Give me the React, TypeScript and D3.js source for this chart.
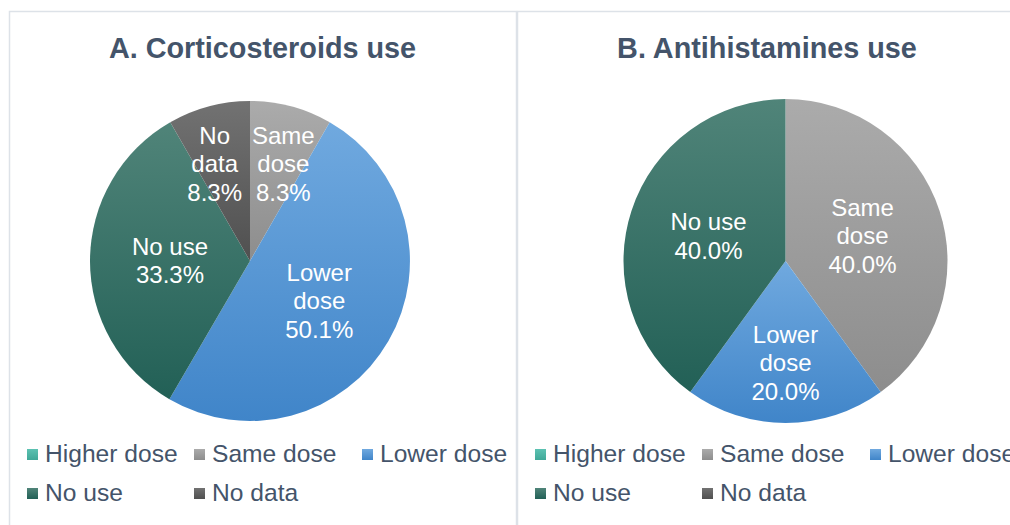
import React from "react";
import * as d3 from "d3";

// Response categories shared by both panels
const categories = ["Higher dose", "Same dose", "Lower dose", "No use", "No data"];
// In-slice label text (with line breaks)
const sliceLabels = ["Higher\ndose", "Same\ndose", "Lower\ndose", "No use", "No\ndata"];

// Percentages per category
const corticosteroidValues = [0, 8.3, 50.1, 33.3, 8.3];
const antihistamineValues = [0, 40.0, 20.0, 40.0, 0];

const panelTitles = ["A. Corticosteroids use", "B. Antihistamines use"];

// Gradient stops (top, bottom) per category
const colorTop = ["#5cc2b2", "#ababab", "#70a9df", "#508479", "#727272"];
const colorBottom = ["#40a898", "#8d8d8d", "#4085c9", "#226056", "#505050"];

const FONT = "'Liberation Sans', Arial, sans-serif";
const TEXT_COLOR = "#44546a";
const BORDER = "#dde2e8";
const LABEL_SIZE = 24;

type Datum = { category: string; value: number; i: number };

let measureCtx: CanvasRenderingContext2D | null = null;
function textWidth(s: string, size: number): number {
  if (!measureCtx) {
    measureCtx = document.createElement("canvas").getContext("2d");
  }
  if (!measureCtx) return s.length * size * 0.55;
  measureCtx.font = `${size}px ${FONT}`;
  return measureCtx.measureText(s).width;
}

type PanelProps = {
  id: string;
  x: number;
  width: number;
  title: string;
  values: number[];
  cx: number;
  cy: number;
  r: number;
};

function Panel({ id, x, width, title, values, cx, cy, r }: PanelProps) {
  const data: Datum[] = categories.map((c, i) => ({ category: c, value: values[i], i }));
  const pie = d3
    .pie<Datum>()
    .value((d) => d.value)
    .sort(null);
  const arcs = pie(data);
  const arc = d3.arc<d3.PieArcDatum<Datum>>().innerRadius(0).outerRadius(r);
  const total = d3.sum(values);

  const legendCols = [18, 185, 353];
  const legendRows = [453, 492];
  const lineH = 28.5;

  return (
    <g>
      <rect x={x + 0.5} y={11.5} width={width} height={540} fill="#fff" stroke={BORDER} strokeWidth={1.5} />
      <text
        x={x + width / 2}
        y={58}
        textAnchor="middle"
        fontFamily={FONT}
        fontWeight="bold"
        fontSize={28.8}
        fill={TEXT_COLOR}
      >
        {title}
      </text>
      <defs>
        {categories.map((c, i) => (
          <linearGradient key={c} id={`${id}-g${i}`} x1="0" y1="0" x2="0" y2="1">
            <stop offset="0" stopColor={colorTop[i]} />
            <stop offset="1" stopColor={colorBottom[i]} />
          </linearGradient>
        ))}
      </defs>
      <g transform={`translate(${cx},${cy})`}>
        {arcs
          .filter((a) => a.value > 0)
          .map((a) => (
            <path key={a.data.category} d={arc(a) || ""} fill={`url(#${id}-g${a.data.i})`} />
          ))}
        {arcs
          .filter((a) => a.value > 0)
          .map((a) => {
            const share = a.value / total;
            const small = share < 0.3;
            const k = small ? 0.5 : 0.5;
            const labelArc = d3
              .arc<d3.PieArcDatum<Datum>>()
              .innerRadius(r * (small ? 0.63 : k))
              .outerRadius(r * (small ? 0.63 : k));
            let [lx, ly] = labelArc.centroid(a);
            const lines = [...sliceLabels[a.data.i].split("\n"), `${a.value.toFixed(1)}%`];
            // Narrow slices touching the 12 o'clock edge: keep the label block clear of it
            if (small && share < 0.15) {
              const half = d3.max(lines, (ln) => textWidth(ln, LABEL_SIZE))! / 2;
              if (a.startAngle === 0) lx = Math.max(lx, half + 2);
              if (Math.abs(a.endAngle - 2 * Math.PI) < 1e-6) lx = Math.min(lx, -half - 8);
            }
            return (
              <text
                key={a.data.category}
                x={lx}
                y={ly}
                textAnchor="middle"
                fontFamily={FONT}
                fontSize={LABEL_SIZE}
                fill="#fff"
              >
                {lines.map((ln, j) => (
                  <tspan key={j} x={lx} y={ly + (j - (lines.length - 1) / 2) * lineH} dy="0.35em">
                    {ln}
                  </tspan>
                ))}
              </text>
            );
          })}
      </g>
      {categories.map((c, i) => {
        const col = i % 3;
        const row = Math.floor(i / 3);
        const lx = x + legendCols[col];
        const ly = legendRows[row];
        return (
          <g key={c}>
            <rect x={lx} y={ly - 4} width={11} height={11} fill={`url(#${id}-g${i})`} />
            <text x={lx + 18} y={ly} dy="0.35em" fontFamily={FONT} fontSize={24.6} fill={TEXT_COLOR}>
              {c}
            </text>
          </g>
        );
      })}
    </g>
  );
}

export default function App() {
  return (
    <svg
      width={1010}
      height={525}
      style={{ position: "absolute", left: 0, top: 0, background: "#fff" }}
    >
      <Panel
        id="pa"
        x={9}
        width={507}
        title={panelTitles[0]}
        values={corticosteroidValues}
        cx={250}
        cy={261}
        r={160}
      />
      <Panel
        id="pb"
        x={517}
        width={500}
        title={panelTitles[1]}
        values={antihistamineValues}
        cx={785.5}
        cy={261}
        r={162}
      />
    </svg>
  );
}
